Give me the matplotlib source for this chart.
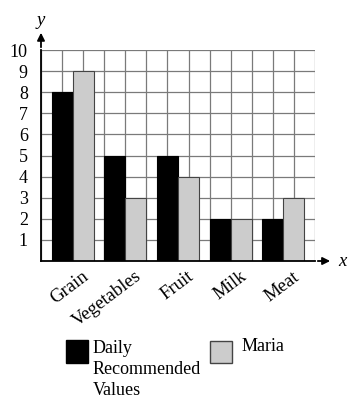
import numpy as np
import matplotlib
matplotlib.use('Agg')
import matplotlib.pyplot as plt
from matplotlib.patches import Rectangle
from matplotlib.transforms import ScaledTranslation

categories = ['Grain', 'Vegetables', 'Fruit', 'Milk', 'Meat']
daily = [8, 5, 5, 2, 2]
maria = [9, 3, 4, 2, 3]
yticks = list(range(1, 11))

plt.rcParams['font.family'] = ['Liberation Serif', 'DejaVu Serif']

fig = plt.figure(figsize=(3.58, 4.07), dpi=100)
ax = fig.add_axes([0.1145, 0.3587, 0.7654, 0.5184])

# group centres sit 2.5 grid cells apart, bars are one cell wide
pos = 1.5 + 2.5 * np.arange(len(categories))
ax.bar(pos - 0.5, daily, width=1, color='black', edgecolor='black', linewidth=0.8, zorder=3)
ax.bar(pos + 0.5, maria, width=1, color='#cccccc', edgecolor='#444444', linewidth=0.8, zorder=3)

ax.set_xlim(0, 13)
ax.set_ylim(0, 10)
ax.set_xticks(np.arange(0, 14))
ax.set_xticklabels([])
ax.set_yticks(range(0, 11))
ax.set_yticklabels([''] + [str(t) for t in yticks], fontsize=13)
ax.tick_params(length=0)
ax.tick_params(axis='y', pad=9.5)
ax.grid(True, color='#7a7a7a', linewidth=0.9, zorder=0)
for s in ['top', 'right']:
    ax.spines[s].set_visible(False)
for s in ['left', 'bottom']:
    ax.spines[s].set_linewidth(1.3)
    ax.spines[s].set_zorder(4)

# axis arrows
ax.annotate('', xy=(0, 10.95), xytext=(0, 10), xycoords='data',
            arrowprops=dict(arrowstyle='-|>', color='black', lw=1.3, mutation_scale=11),
            annotation_clip=False)
ax.annotate('', xy=(13.85, 0), xytext=(13, 0), xycoords='data',
            arrowprops=dict(arrowstyle='-|>', color='black', lw=1.3, mutation_scale=11),
            annotation_clip=False)
ax.text(0, 11.4, 'y', style='italic', fontsize=13.5, ha='center', va='center', clip_on=False)
ax.text(14.3, 0, 'x', style='italic', fontsize=13.5, ha='center', va='center', clip_on=False)

# category labels
off = ScaledTranslation(6.5 / 72, -5 / 72, fig.dpi_scale_trans)
for p, c in zip(pos, categories):
    ax.text(p, 0, c, fontsize=13.5, rotation=37, ha='right', va='top',
            rotation_mode='anchor', transform=ax.transData + off, clip_on=False)

# legend
W, H = 358.0, 407.0
fig.patches.append(Rectangle((66 / W, 1 - 363 / H), 22 / W, 23 / H, facecolor='black',
                             edgecolor='black', transform=fig.transFigure))
fig.patches.append(Rectangle((210 / W, 1 - 363 / H), 22 / W, 22 / H, facecolor='#cccccc',
                             edgecolor='#444444', linewidth=1, transform=fig.transFigure))
fig.text(93 / W, 1 - 340 / H, 'Daily\nRecommended\nValues', fontsize=13, va='top',
         ha='left', linespacing=1.32)
fig.text(242 / W, 1 - 338 / H, 'Maria', fontsize=13, va='top', ha='left')

fig.savefig('out.png', dpi=100)
